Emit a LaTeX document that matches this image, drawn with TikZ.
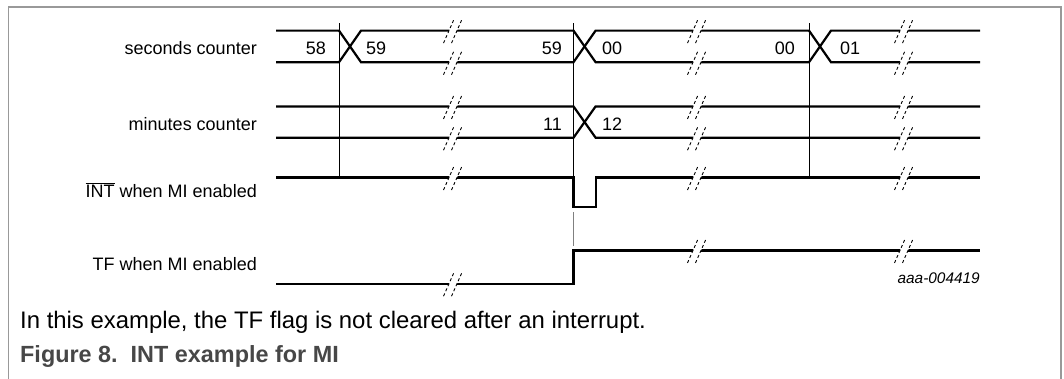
\documentclass[tikz,border=0pt]{standalone}
\usepackage{fontspec}
\setmainfont{Liberation Sans}

\newcommand\sigbreak[2]{%
  \fill[white] ({#1-8.8},{#2+11}) -- ({#1+0.8},{#2-11}) -- ({#1+8.8},{#2-11}) -- ({#1-0.8},{#2+11}) -- cycle;
  \draw[brk] ({#1-9.5},{#2+12.5}) -- ({#1+1.5},{#2-12.5});
  \draw[brk] ({#1-1.5},{#2+12.5}) -- ({#1+9.5},{#2-12.5});}

\begin{document}
\begin{tikzpicture}[x=1pt,y=-1pt,
    sig/.style={line width=2.2pt},
    refline/.style={line width=0.9pt},
    brk/.style={line width=0.9pt, dash pattern=on 3pt off 2.5pt},
    lbl/.style={inner sep=0pt, font=\fontsize{18}{20}\selectfont}]
                \useasboundingbox (0,0) rectangle (1064,378);
                \draw[black!40, line width=1.5pt] (8.5,380) -- (8.5,6.8) -- (1061,6.8) -- (1061,380);

                \draw[refline] (339,23) -- (339,177.5);
                \draw[refline] (573.5,23) -- (573.5,177.5);
                \draw[refline] (809,23) -- (809,177.5);
                \draw[refline, black!50] (573.5,212) -- (573.5,246);

                \draw[sig] (276,30.6) -- (339,30.6) -- (361,62.2) -- (573.5,62.2) -- (595.6,30.6) -- (809,30.6) -- (831,62.2) -- (980,62.2);
                \draw[sig] (276,62.2) -- (339,62.2) -- (361,30.6) -- (573.5,30.6) -- (595.6,62.2) -- (809,62.2) -- (831,30.6) -- (980,30.6);
                \draw[sig] (276,106.4) -- (573.5,106.4) -- (595.6,137.7) -- (980,137.7);
                \draw[sig] (276,137.7) -- (573.5,137.7) -- (595.6,106.4) -- (980,106.4);
                \draw[sig] (276,177.5) -- (573.5,177.5) -- (573.5,207) -- (595.6,207) -- (595.6,177.5) -- (980,177.5);
                \draw[sig] (276,283.7) -- (573.5,283.7) -- (573.5,250.4) -- (980,250.4);

                \foreach \y in {30.6,62.2,106.4,137.7,177.5,283.7} \sigbreak{453}{\y};
                \foreach \y in {30.6,62.2,106.4,137.7,177.5,250.4} {\sigbreak{697}{\y} \sigbreak{904}{\y}}

                \node[lbl, anchor=base east] (seclbl) at (257,54.5) {seconds counter};
                \node[lbl, anchor=base east] (minlbl) at (257,130) {minutes counter};
                \node[lbl, anchor=base east] (intlbl) at (257,197) {$\overline{\mbox{INT}}$ when MI enabled};
                \node[lbl, anchor=base east] (tflbl) at (257,270) {TF when MI enabled};

                \node[lbl, anchor=base east] (s58) at (326,54.5) {58};
                \node[lbl, anchor=base west] (s59a) at (366,54.5) {59};
                \node[lbl, anchor=base east] (s59b) at (562,54.5) {59};
                \node[lbl, anchor=base west] (s00a) at (602,54.5) {00};
                \node[lbl, anchor=base east] (s00b) at (795,54.5) {00};
                \node[lbl, anchor=base west] (s01) at (840,54.5) {01};
                \node[lbl, anchor=base east] (m11) at (562,130) {11};
                \node[lbl, anchor=base west] (m12) at (602,130) {12};

                \node[inner sep=0pt, anchor=base east, font=\fontsize{15.4}{17}\selectfont\itshape] (figid) at (980,283.7) {aaa-004419};
                \node[inner sep=0pt, anchor=base west, font=\fontsize{23.9}{28}\selectfont] (note) at (20,328) {In this example, the TF flag is not cleared after an interrupt.};
                \node[inner sep=0pt, anchor=base west, text=black!72, font=\fontsize{23.4}{28}\selectfont\bfseries] (caption) at (20,362.5) {Figure 8.\ \ INT example for MI};
            \end{tikzpicture}
\end{document}
